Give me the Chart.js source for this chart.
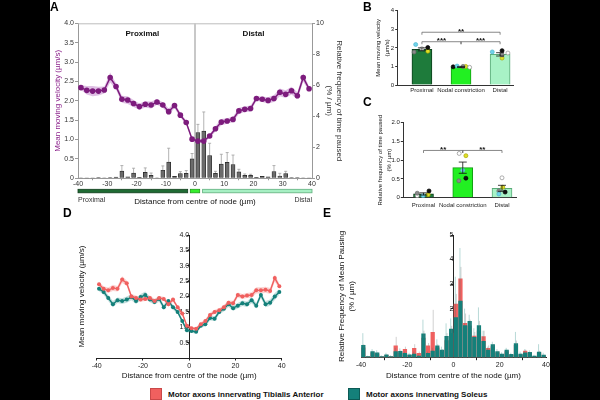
<!DOCTYPE html>
<html>
<head>
<meta charset="utf-8">
<script src="https://cdn.jsdelivr.net/npm/chart.js@4.4.1/dist/chart.umd.min.js"></script>
<style>
  html, body { margin: 0; padding: 0; background: #000; }
  #page { position: relative; width: 600px; height: 400px; background: #fff; overflow: hidden;
          font-family: 'Liberation Sans', Arial, sans-serif; }
  .box { position: absolute; }
  .mask { position: absolute; top: 0; height: 400px; background: #000; z-index: 10; }
  .letter { position: absolute; font-weight: bold; font-size: 12px; line-height: 12px; color: #000; }
  .leg { position: absolute; display: flex; align-items: center; font-weight: bold; font-size: 8px; color: #111; }
  .sw { display: inline-block; width: 10px; height: 10px; margin-right: 6px; }
</style>
</head>
<body>
<div id="page">
  <div class="box" style="left:50px;top:10px;"><canvas id="chartA" width="300" height="205"></canvas></div>
  <div class="box" style="left:370px;top:5px;"><canvas id="chartB" width="160" height="95"></canvas></div>
  <div class="box" style="left:370px;top:112px;"><canvas id="chartC" width="160" height="100"></canvas></div>
  <div class="box" style="left:50px;top:225px;"><canvas id="chartD" width="250" height="160"></canvas></div>
  <div class="box" style="left:300px;top:225px;"><canvas id="chartE" width="300" height="160"></canvas></div>

  <div class="letter" style="left:50px;top:1px;">A</div>
  <div class="letter" style="left:363px;top:1px;">B</div>
  <div class="letter" style="left:363px;top:96px;">C</div>
  <div class="letter" style="left:63px;top:207px;">D</div>
  <div class="letter" style="left:323px;top:207px;">E</div>

  <div class="leg" style="left:150px;top:388px;"><span class="sw" style="background:#f0605f;border:0.5px solid #c94848;"></span>Motor axons innervating Tibialis Anterior</div>
  <div class="leg" style="left:348px;top:388px;"><span class="sw" style="background:#14807a;border:0.5px solid #0c5a55;"></span>Motor axons innervating Soleus</div>

  <div class="mask" style="left:0;width:50px;"></div>
  <div class="mask" style="left:550px;width:50px;"></div>
</div>

<script>
// ---------- panel A : velocity + pausing along the node ----------
const distA = [-39, -37, -35, -33, -31, -29, -27, -25, -23, -21, -19, -17, -15, -13, -11, -9, -7, -5, -3, -1,
               1, 3, 5, 7, 9, 11, 13, 15, 17, 19, 21, 23, 25, 27, 29, 31, 33, 35, 37, 39];
const velA = [2.34, 2.27, 2.25, 2.25, 2.28, 2.60, 2.37, 2.04, 2.02, 1.93, 1.85, 1.91, 1.89, 1.97, 1.89, 1.72, 1.88, 1.63, 1.44, 1.01,
              0.96, 0.96, 1.09, 1.28, 1.45, 1.48, 1.52, 1.74, 1.78, 1.80, 2.06, 2.04, 2.01, 2.06, 2.22, 2.17, 2.26, 2.13, 2.60, 2.31];
const semA = [0.06, 0.11, 0.13, 0.11, 0.09, 0.13, 0.08, 0.09, 0.10, 0.09, 0.08, 0.08, 0.09, 0.07, 0.07, 0.08, 0.07, 0.06, 0.05, 0.04,
              0.04, 0.04, 0.05, 0.07, 0.08, 0.07, 0.07, 0.08, 0.07, 0.08, 0.06, 0.07, 0.08, 0.09, 0.10, 0.10, 0.10, 0.09, 0.11, 0.06];
const pauseA = [0.02, 0.01, 0.01, 0.05, 0.02, 0.05, 0.08, 0.47, 0.10, 0.34, 0.06, 0.39, 0.19, 0.02, 0.52, 1.05, 0.13, 0.30, 0.32, 1.25,
                2.95, 3.05, 1.46, 0.32, 0.92, 1.03, 0.88, 0.41, 0.19, 0.19, 0.06, 0.13, 0.10, 0.43, 0.15, 0.30, 0.04, 0.04, 0.02, 0.01];
const pauseTopA = [0.03, 0.02, 0.02, 0.07, 0.03, 0.07, 0.12, 0.82, 0.14, 0.65, 0.09, 0.67, 0.34, 0.03, 0.80, 1.94, 0.18, 0.43, 0.50, 1.60,
                   3.48, 4.28, 2.26, 0.45, 1.55, 1.66, 1.50, 0.58, 0.28, 0.26, 0.08, 0.18, 0.14, 0.82, 0.32, 0.45, 0.06, 0.06, 0.03, 0.02];
const regionFrom = [-40, -1.6, 2.6];
const regionTo = [-2.5, 1.6, 40];
const regionFill = ['#1f6b33', '#35ee2c', '#a6efc3'];
const regionEdge = ['#0f3d1c', '#1c9e16', '#5fae7c'];

// ---------- panels B and C : per-region means ----------
const groups = ['Proximal', 'Nodal constriction', 'Distal'];
const groupX = [0, 1, 2];
const groupFill = ['#1e7b3b', '#22f022', '#a8f2c6'];
const groupEdge = ['#0c3f1b', '#129c12', '#5aaa78'];
const velB = [1.92, 0.97, 1.65];
const semB = [0.08, 0.03, 0.09];
const pauseC = [0.10, 0.80, 0.25];
const semC = [0.03, 0.15, 0.08];
const dotFill = ['#6fd3ea', '#8a8a8a', '#ffffff', '#111111', '#e0df2a'];
const dotEdge = ['#4fb4cc', '#666666', '#8c8c8c', '#000000', '#a8a700'];
const dotsB = [[2.18, 1.02, 1.78], [1.77, 1.00, 1.62], [1.95, 0.95, 1.72], [2.02, 0.98, 1.85], [1.82, 1.00, 1.45]];
const jitB = [[-0.16, -0.10, -0.20], [-0.20, 0.05, 0.05], [0.00, 0.22, 0.20], [0.15, -0.20, 0.05], [0.15, 0.12, 0.05]];
const dotsC = [[0.05, 0.73, 0.10], [0.12, 0.45, 0.18], [0.05, 1.18, 0.53], [0.18, 0.52, 0.15], [0.08, 1.12, 0.28]];
const jitC = [[-0.01, 0.00, -0.08], [-0.16, -0.10, -0.08], [-0.16, -0.09, 0.00], [0.14, 0.08, 0.08], [0.12, 0.08, 0.02]];
const bracketsB = [[0, 2, 2.84, '**'], [0, 1, 2.33, '***'], [1, 2, 2.33, '***']];
const bracketsC = [[0, 1, 1.26, '**'], [1, 2, 1.26, '**']];

// ---------- panels D and E : TA vs soleus ----------
const redD = [2.40, 2.25, 2.20, 2.28, 2.25, 2.55, 2.43, 2.00, 1.95, 1.90, 1.92, 1.95, 1.85, 1.95, 1.92, 1.75, 1.90, 1.65, 1.45, 1.05,
              0.97, 0.95, 1.10, 1.20, 1.40, 1.50, 1.55, 1.65, 1.80, 1.78, 2.05, 2.00, 2.03, 2.05, 2.20, 2.20, 2.22, 2.18, 2.60, 2.33];
const tealD = [2.25, 2.15, 1.95, 1.75, 1.88, 1.85, 1.90, 1.98, 1.85, 1.98, 2.05, 1.90, 1.82, 1.92, 1.65, 1.85, 1.65, 1.50, 1.20, 0.90,
               0.88, 0.85, 1.05, 1.10, 1.30, 1.28, 1.50, 1.60, 1.75, 1.62, 1.70, 1.78, 1.75, 1.88, 1.70, 2.05, 1.75, 1.80, 2.00, 2.15];
const semRedD = [0.07, 0.08, 0.09, 0.10, 0.09, 0.11, 0.09, 0.08, 0.08, 0.07, 0.07, 0.08, 0.08, 0.07, 0.07, 0.08, 0.07, 0.06, 0.06, 0.05,
                 0.05, 0.05, 0.06, 0.07, 0.07, 0.07, 0.07, 0.08, 0.07, 0.08, 0.08, 0.08, 0.08, 0.09, 0.10, 0.10, 0.10, 0.10, 0.12, 0.08];
const semTealD = [0.08, 0.09, 0.10, 0.10, 0.09, 0.09, 0.10, 0.10, 0.09, 0.10, 0.11, 0.09, 0.08, 0.09, 0.09, 0.08, 0.08, 0.07, 0.07, 0.06,
                  0.06, 0.06, 0.07, 0.07, 0.08, 0.08, 0.08, 0.09, 0.09, 0.08, 0.09, 0.09, 0.09, 0.10, 0.09, 0.10, 0.10, 0.10, 0.11, 0.09];
const tealE = [0.50, 0.05, 0.25, 0.20, 0.05, 0.12, 0.05, 0.25, 0.26, 0.18, 0.12, 0.15, 0.07, 0.97, 0.18, 0.27, 0.48, 0.31, 0.87, 1.17,
               1.63, 2.31, 1.31, 1.48, 0.83, 1.31, 0.67, 0.31, 0.53, 0.25, 0.15, 0.31, 0.14, 0.58, 0.15, 0.20, 0.22, 0.07, 0.23, 0.11];
const redE = [0.40, 0.04, 0.20, 0.15, 0.04, 0.10, 0.04, 0.48, 0.20, 0.34, 0.10, 0.38, 0.18, 0.80, 0.48, 1.03, 0.40, 0.25, 0.70, 1.00,
              2.18, 3.21, 1.40, 1.30, 0.88, 1.10, 0.86, 0.38, 0.45, 0.20, 0.12, 0.25, 0.10, 0.50, 0.12, 0.27, 0.18, 0.05, 0.20, 0.08];
const tealTopE = [1.00, 0.08, 0.35, 0.30, 0.10, 0.20, 0.10, 0.40, 0.38, 0.25, 0.20, 0.25, 0.12, 1.55, 0.25, 0.40, 0.75, 0.45, 1.40, 1.60,
                  3.30, 4.47, 2.00, 1.75, 1.20, 2.05, 1.10, 0.45, 0.65, 0.35, 0.22, 0.40, 0.20, 1.05, 0.25, 0.35, 0.30, 0.12, 0.55, 0.20];
const redTopE = [0.55, 0.06, 0.28, 0.22, 0.06, 0.15, 0.06, 0.85, 0.30, 0.45, 0.15, 0.55, 0.25, 1.10, 0.60, 1.95, 0.55, 0.35, 1.00, 1.30,
                 2.60, 3.70, 1.80, 1.55, 1.05, 1.50, 1.10, 0.50, 0.55, 0.28, 0.16, 0.32, 0.14, 0.70, 0.18, 0.33, 0.24, 0.08, 0.28, 0.12];

Chart.defaults.font.family = "'Liberation Sans', Arial, sans-serif";
Chart.defaults.color = '#222';
Chart.defaults.animation = false;
Chart.defaults.responsive = false;
Chart.defaults.plugins.legend.display = false;
Chart.defaults.plugins.tooltip.enabled = false;

const pts = (xs, ys) => xs.map((x, i) => ({x: x, y: ys[i]}));
const shift = (ys, es, s) => ys.map((v, i) => v + s * es[i]);

// ---------- A ----------
const plugA = {
  id: 'plugA',
  beforeDatasetsDraw(chart) {
    const {ctx, chartArea: a, scales: {x, y2}} = chart;
    ctx.save();
    ctx.strokeStyle = '#bdbdbd';
    ctx.lineWidth = 1;
    ctx.beginPath(); ctx.moveTo(a.left, a.top + 0.5); ctx.lineTo(a.right, a.top + 0.5); ctx.stroke();
    const x0 = x.getPixelForValue(0);
    ctx.strokeStyle = '#c8c8c8';
    ctx.lineWidth = 2;
    ctx.beginPath(); ctx.moveTo(x0, a.top); ctx.lineTo(x0, a.bottom); ctx.stroke();
    // upper error bars of the pausing bars
    ctx.strokeStyle = '#a0a0a0';
    ctx.lineWidth = 0.8;
    distA.forEach((d, i) => {
      const px = x.getPixelForValue(d);
      const yb = y2.getPixelForValue(pauseA[i]);
      const yt = y2.getPixelForValue(pauseTopA[i]);
      if (yb - yt < 1) return;
      ctx.beginPath();
      ctx.moveTo(px, yb); ctx.lineTo(px, yt);
      ctx.moveTo(px - 1.5, yt); ctx.lineTo(px + 1.5, yt);
      ctx.stroke();
    });
    ctx.restore();
  },
  afterDraw(chart) {
    const {ctx, chartArea: a, scales: {x, y}} = chart;
    ctx.save();
    regionFrom.forEach((f, i) => {
      const x1 = x.getPixelForValue(f), x2 = x.getPixelForValue(regionTo[i]);
      ctx.fillStyle = regionFill[i];
      ctx.strokeStyle = regionEdge[i];
      ctx.lineWidth = 0.8;
      ctx.fillRect(x1, a.bottom + 11, x2 - x1, 3.5);
      ctx.strokeRect(x1, a.bottom + 11, x2 - x1, 3.5);
    });
    ctx.fillStyle = '#111';
    ctx.font = "bold 8px 'Liberation Sans', Arial, sans-serif";
    ctx.textAlign = 'center';
    ctx.textBaseline = 'middle';
    ctx.fillText('Proximal', x.getPixelForValue(-18), y.getPixelForValue(3.72));
    ctx.fillText('Distal', x.getPixelForValue(20), y.getPixelForValue(3.72));
    ctx.font = "7px 'Liberation Sans', Arial, sans-serif";
    ctx.fillStyle = '#333';
    ctx.textAlign = 'left';
    ctx.fillText('Proximal', a.left, a.bottom + 22);
    ctx.textAlign = 'right';
    ctx.fillText('Distal', a.right, a.bottom + 22);
    ctx.restore();
  }
};

new Chart(document.getElementById('chartA'), {
  type: 'line',
  data: {
    datasets: [
      {data: pts(distA, shift(velA, semA, 1)), borderWidth: 0, pointRadius: 0, fill: '+1',
       backgroundColor: 'rgba(170, 90, 185, 0.38)', order: 1},
      {data: pts(distA, shift(velA, semA, -1)), borderWidth: 0, pointRadius: 0, fill: false, order: 2},
      {data: pts(distA, velA), borderColor: '#7d1c7d', borderWidth: 1.5, pointRadius: 2.8,
       pointBackgroundColor: '#7d1c7d', pointBorderWidth: 0, order: 0},
      {type: 'bar', data: pts(distA, pauseA), yAxisID: 'y2', backgroundColor: '#6b6b6b',
       borderColor: '#222', borderWidth: 0.7, barThickness: 4, order: 3}
    ]
  },
  options: {
    layout: {padding: {top: 13.3, left: 0, right: 0, bottom: 0}},
    scales: {
      x: {
        type: 'linear', min: -40, max: 40, offset: false,
        ticks: {stepSize: 10, font: {size: 7}, color: '#333', padding: 0, maxRotation: 0},
        grid: {drawOnChartArea: false, tickLength: 2, color: '#999'},
        border: {color: '#999'},
        title: {display: true, text: 'Distance from centre of node (µm)', color: '#111',
                font: {size: 8}, padding: {top: 0, bottom: 8.5}},
        afterFit: s => { s.height = 36.7; }
      },
      y: {
        position: 'left', min: 0, max: 4,
        ticks: {stepSize: 0.5, font: {size: 7}, color: '#333', padding: 1,
                callback: v => v === 0 ? '0' : v.toFixed(1)},
        grid: {drawOnChartArea: false, tickLength: 3, color: '#999'},
        border: {color: '#999'},
        title: {display: true, text: 'Mean moving velocity (µm/s)', color: '#8a1f8a',
                font: {size: 8}, padding: {top: 3.2, bottom: 0}},
        afterFit: s => { s.width = 28; }
      },
      y2: {
        position: 'right', min: 0, max: 10,
        ticks: {stepSize: 2, font: {size: 7}, color: '#333', padding: 1},
        grid: {drawOnChartArea: false, tickLength: 3, color: '#999'},
        border: {color: '#999'},
        title: {display: true, text: ['Relative frequency of time paused', '(% / µm)'], color: '#333',
                font: {size: 8}, padding: {top: 6, bottom: 0}},
        afterFit: s => { s.width = 38; }
      }
    }
  },
  plugins: [plugA]
});

// ---------- B and C ----------
function groupPlugin(id, means, sems, brackets) {
  return {
    id: id,
    afterDatasetsDraw(chart) {
      const {ctx, scales: {x, y}} = chart;
      ctx.save();
      ctx.strokeStyle = '#111';
      ctx.lineWidth = 0.8;
      means.forEach((m, i) => {
        const px = x.getPixelForValue(groupX[i]);
        const yt = y.getPixelForValue(m + sems[i]), yb = y.getPixelForValue(m - sems[i]);
        ctx.beginPath();
        ctx.moveTo(px, yb); ctx.lineTo(px, yt);
        ctx.moveTo(px - 4, yt); ctx.lineTo(px + 4, yt);
        ctx.moveTo(px - 4, yb); ctx.lineTo(px + 4, yb);
        ctx.stroke();
      });
      ctx.strokeStyle = '#555';
      ctx.lineWidth = 0.7;
      ctx.fillStyle = '#111';
      ctx.font = "bold 8px 'Liberation Sans', Arial, sans-serif";
      ctx.textAlign = 'center';
      ctx.textBaseline = 'alphabetic';
      brackets.forEach(b => {
        const x1 = x.getPixelForValue(b[0]), x2 = x.getPixelForValue(b[1]);
        const py = y.getPixelForValue(b[2]);
        ctx.beginPath();
        ctx.moveTo(x1, py + 2.5); ctx.lineTo(x1, py); ctx.lineTo(x2, py); ctx.lineTo(x2, py + 2.5);
        ctx.stroke();
        ctx.fillText(b[3], (x1 + x2) / 2, py + 1.5);
      });
      ctx.restore();
    }
  };
}

function groupChart(canvasId, means, dots, jit, opts) {
  const dotSets = dots.map((vals, c) => ({
    type: 'scatter',
    data: vals.map((v, g) => ({x: groupX[g] + jit[c][g], y: v})),
    pointRadius: 2, pointBackgroundColor: dotFill[c], pointBorderColor: dotEdge[c],
    pointBorderWidth: 0.7, order: 0
  }));
  return new Chart(document.getElementById(canvasId), {
    type: 'bar',
    data: {
      datasets: [
        {type: 'bar', data: pts(groupX, means), backgroundColor: groupFill, borderColor: groupEdge,
         borderWidth: 1, barThickness: 20, order: 2},
        ...dotSets
      ]
    },
    options: {
      layout: {padding: {top: opts.top, right: opts.right, left: 0, bottom: 0}},
      scales: {
        x: {
          type: 'linear', min: opts.xmin, max: opts.xmax, offset: false,
          afterBuildTicks: a => { a.ticks = groupX.map(v => ({value: v})); },
          ticks: {callback: v => groups[v], font: {size: 6}, color: '#222', padding: opts.labelPad,
                  autoSkip: false, maxRotation: 0},
          grid: {drawOnChartArea: false, drawTicks: false},
          border: {color: '#333'},
          afterFit: s => { s.height = opts.xh; }
        },
        y: {
          min: 0, max: opts.ymax,
          ticks: {stepSize: opts.step, font: {size: 6}, color: '#222', padding: 1, callback: opts.fmt},
          grid: {drawOnChartArea: false, tickLength: 2.5, color: '#333'},
          border: {color: '#333'},
          title: {display: true, text: opts.title, color: '#111', font: {size: 6, lineHeight: 1.5},
                  padding: {top: opts.titlePad, bottom: 0}},
          afterFit: s => { s.width = opts.yw; }
        }
      }
    },
    plugins: [groupPlugin(canvasId + 'p', means, opts.sems, opts.brackets)]
  });
}

groupChart('chartB', velB, dotsB, jitB, {
  top: 5.7, right: 17, xmin: -0.62, xmax: 2.33, xh: 15, yw: 27.7, ymax: 4, step: 1,
  fmt: v => String(v), labelPad: 2, titlePad: 3.5,
  title: ['Mean moving velocity', '(µm/s)'], sems: semB, brackets: bracketsB
});
groupChart('chartC', pauseC, dotsC, jitC, {
  top: 10.7, right: 14, xmin: -0.515, xmax: 2.357, xh: 14.3, yw: 33.3, ymax: 2, step: 0.5,
  fmt: v => v === 0 ? '0' : v.toFixed(1), labelPad: 3.7, titlePad: 5.5,
  title: ['Relative frequency of time paused', '(% / µm)'], sems: semC, brackets: bracketsC
});

// ---------- D ----------
const axisCommon = {
  grid: {drawOnChartArea: false, tickLength: 2.5, color: '#222'},
  border: {color: '#222'}
};

new Chart(document.getElementById('chartD'), {
  type: 'line',
  data: {
    datasets: [
      {data: pts(distA, shift(redD, semRedD, 1)), borderWidth: 0, pointRadius: 0, fill: '+1',
       backgroundColor: 'rgba(240, 96, 95, 0.28)', order: 3},
      {data: pts(distA, shift(redD, semRedD, -1)), borderWidth: 0, pointRadius: 0, fill: false, order: 4},
      {data: pts(distA, shift(tealD, semTealD, 1)), borderWidth: 0, pointRadius: 0, fill: '+1',
       backgroundColor: 'rgba(20, 128, 122, 0.25)', order: 5},
      {data: pts(distA, shift(tealD, semTealD, -1)), borderWidth: 0, pointRadius: 0, fill: false, order: 6},
      {data: pts(distA, tealD), borderColor: '#14807a', borderWidth: 1.4, pointRadius: 2,
       pointBackgroundColor: '#14807a', pointBorderWidth: 0, order: 1},
      {data: pts(distA, redD), borderColor: '#f0605f', borderWidth: 1.4, pointRadius: 2,
       pointBackgroundColor: '#f0605f', pointBorderWidth: 0, order: 0}
    ]
  },
  options: {
    layout: {padding: {top: 10, right: 18.3, left: 0, bottom: 0}},
    scales: {
      x: {
        type: 'linear', min: -40, max: 40, offset: false, ...axisCommon,
        ticks: {stepSize: 20, font: {size: 7}, color: '#222', padding: 1, maxRotation: 0},
        title: {display: true, text: 'Distance from centre of the node (µm)', color: '#111',
                font: {size: 8}, padding: {top: 0, bottom: 4.2}},
        afterFit: s => { s.height = 27; }
      },
      y: {
        position: {x: 0}, min: 0, max: 4, ...axisCommon,
        ticks: {stepSize: 0.5, font: {size: 7}, color: '#222', padding: 0.5,
                callback: v => v === 0 ? '' : v.toFixed(1)}
      },
      yt: {
        position: 'left', display: true,
        ticks: {display: false}, grid: {display: false}, border: {display: false},
        title: {display: true, text: 'Mean moving velocity (µm/s)', color: '#111',
                font: {size: 8}, padding: {top: 27.2, bottom: 0}},
        afterFit: s => { s.width = 46.7; }
      }
    }
  }
});

// ---------- E ----------
const plugE = {
  id: 'plugE',
  afterDatasetsDraw(chart) {
    const {ctx, scales: {x, y}} = chart;
    ctx.save();
    ctx.lineWidth = 1;
    distA.forEach((d, i) => {
      const px = x.getPixelForValue(d);
      ctx.strokeStyle = 'rgba(120, 120, 120, 0.35)';
      ctx.beginPath();
      ctx.moveTo(px + 0.5, y.getPixelForValue(redE[i]));
      ctx.lineTo(px + 0.5, y.getPixelForValue(redTopE[i]));
      ctx.stroke();
      ctx.strokeStyle = 'rgba(20, 128, 122, 0.3)';
      ctx.beginPath();
      ctx.moveTo(px - 0.5, y.getPixelForValue(tealE[i]));
      ctx.lineTo(px - 0.5, y.getPixelForValue(tealTopE[i]));
      ctx.stroke();
    });
    ctx.restore();
  }
};

new Chart(document.getElementById('chartE'), {
  type: 'bar',
  data: {
    datasets: [
      {data: pts(distA, tealE), backgroundColor: '#14807a', barThickness: 3.6, grouped: false, order: 1},
      {data: pts(distA, redE), backgroundColor: '#f0605f', barThickness: 3.6, grouped: false, order: 2}
    ]
  },
  options: {
    layout: {padding: {top: 10, right: 54, left: 0, bottom: 0}},
    scales: {
      x: {
        type: 'linear', min: -40, max: 40, offset: false, ...axisCommon,
        ticks: {stepSize: 20, font: {size: 7}, color: '#222', padding: 1, maxRotation: 0},
        title: {display: true, text: 'Distance from centre of the node (µm)', color: '#111',
                font: {size: 8}, padding: {top: 0, bottom: 4.2}},
        afterFit: s => { s.height = 27.3; }
      },
      y: {
        position: {x: 0}, min: 0, max: 5, ...axisCommon,
        ticks: {stepSize: 1, font: {size: 7}, color: '#222', padding: 0.5,
                callback: v => v === 0 ? '' : String(v)}
      },
      yt: {
        position: 'left', display: true,
        ticks: {display: false}, grid: {display: false}, border: {display: false},
        title: {display: true, text: ['Relative Frequency of Mean Pausing', '(% / µm)'], color: '#111',
                font: {size: 8, lineHeight: 1.25}, padding: {top: 37, bottom: 0}},
        afterFit: s => { s.width = 61; }
      }
    }
  },
  plugins: [plugE]
});
</script>
</body>
</html>
